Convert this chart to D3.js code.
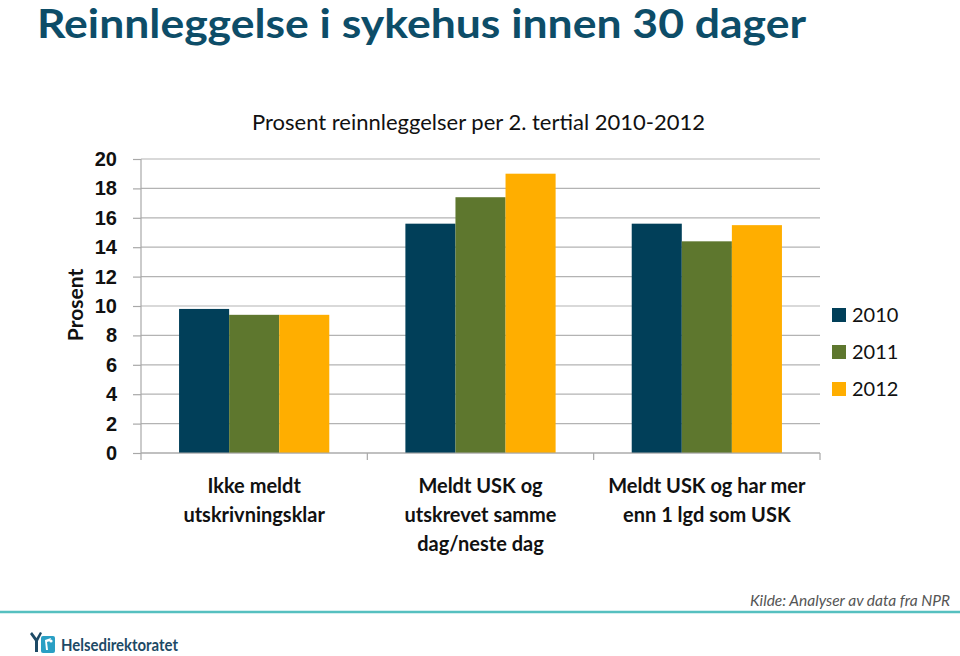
<!DOCTYPE html>
<html lang="no">
<head>
  <meta charset="UTF-8">
  <title>Reinnleggelse i sykehus innen 30 dager</title>
  <script src="https://d3js.org/d3.v7.min.js"></script>
  <style>
    body { margin: 0; background: #fff; font-family: Lato, "Open Sans", sans-serif; }
    svg { display: block; }
    .grid line { stroke: #b3b3b3; stroke-width: 1.2px; }
    .tick text { font-weight: bold; font-size: 20px; fill: #111; }
  </style>
</head>
<body>
  <svg width="960" height="656"></svg>

  <script>
    const categories = [
      ["Ikke meldt", "utskrivningsklar"],
      ["Meldt USK og", "utskrevet samme", "dag/neste dag"],
      ["Meldt USK og har mer", "enn 1 lgd som USK"]
    ];
    const years = ["2010", "2011", "2012"];
    const v2010 = [9.8, 15.6, 15.6];
    const v2011 = [9.4, 17.4, 14.4];
    const v2012 = [9.4, 19.0, 15.5];
    const yTicks = [0, 2, 4, 6, 8, 10, 12, 14, 16, 18, 20];
    const colors = ["#013f59", "#5e772e", "#ffae00"];

    const svg = d3.select("svg");

    // tittel
    svg.append("text")
      .attr("x", 37).attr("y", 38)
      .attr("textLength", 769).attr("lengthAdjust", "spacingAndGlyphs")
      .attr("font-size", 40).attr("font-weight", "bold")
      .attr("fill", "#0d4d68")
      .text("Reinnleggelse i sykehus innen 30 dager");

    svg.append("text")
      .attr("x", 252).attr("y", 130)
      .attr("textLength", 453).attr("lengthAdjust", "spacingAndGlyphs")
      .attr("font-size", 21).attr("fill", "#111")
      .text("Prosent reinnleggelser per 2. tertial 2010-2012");

    const plotL = 141, plotR = 820, plotT = 159, plotB = 453;

    const y = d3.scaleLinear().domain([0, 20]).range([plotB, plotT]);
    const x0 = d3.scaleBand().domain(d3.range(categories.length)).range([plotL, plotR]).padding(0);
    const x1 = d3.scaleBand().domain(years).range([0, x0.bandwidth()])
      .paddingInner(0).paddingOuter(0.76);

    // rutenett
    svg.append("g").attr("class", "grid")
      .selectAll("line")
      .data(yTicks)
      .join("line")
      .attr("x1", plotL).attr("x2", plotR)
      .attr("y1", d => y(d)).attr("y2", d => y(d));

    // y-akse
    const yAxis = svg.append("g")
      .attr("transform", `translate(${plotL},0)`)
      .call(d3.axisLeft(y).tickValues(yTicks).tickSize(8).tickPadding(16));
    yAxis.selectAll("line, path").attr("stroke", "#a8a8a8").attr("stroke-width", 1.2);
    yAxis.select(".domain").attr("d", `M0,${plotB}V${plotT}`);

    svg.append("text")
      .attr("transform", `translate(83,305) rotate(-90)`)
      .attr("text-anchor", "middle")
      .attr("font-size", 21).attr("font-weight", "bold").attr("fill", "#111")
      .text("Prosent");

    // stolper
    const series = [v2010, v2011, v2012];
    const groups = svg.append("g")
      .selectAll("g")
      .data(categories.map((c, i) => i))
      .join("g")
      .attr("transform", i => `translate(${x0(i)},0)`);

    groups.selectAll("rect")
      .data(i => years.map((yr, j) => ({ yr, j, v: series[j][i] })))
      .join("rect")
      .attr("x", d => x1(d.yr))
      .attr("width", x1.bandwidth())
      .attr("y", d => y(d.v))
      .attr("height", d => y(0) - y(d.v))
      .attr("fill", d => colors[d.j]);

    // x-akse
    const xAxis = svg.append("g");
    xAxis.append("line")
      .attr("x1", plotL).attr("x2", plotR)
      .attr("y1", plotB).attr("y2", plotB)
      .attr("stroke", "#a8a8a8").attr("stroke-width", 1.2);
    xAxis.selectAll(".sep")
      .data(d3.range(categories.length + 1))
      .join("line")
      .attr("x1", i => plotL + i * x0.step()).attr("x2", i => plotL + i * x0.step())
      .attr("y1", plotB).attr("y2", plotB + 7)
      .attr("stroke", "#a8a8a8").attr("stroke-width", 1.2);

    categories.forEach((lines, i) => {
      const t = svg.append("text")
        .attr("text-anchor", "middle")
        .attr("font-size", 20).attr("font-weight", "bold").attr("fill", "#111");
      lines.forEach((ln, k) => {
        t.append("tspan")
          .attr("x", x0(i) + x0.bandwidth() / 2)
          .attr("y", 493 + k * 29)
          .text(ln);
      });
    });

    // forklaring
    const legend = svg.append("g")
      .selectAll("g")
      .data(years)
      .join("g")
      .attr("transform", (d, i) => `translate(832,${315 + i * 37})`);
    legend.append("rect")
      .attr("x", 0).attr("y", -7).attr("width", 14).attr("height", 14)
      .attr("fill", (d, i) => colors[i]);
    legend.append("text")
      .attr("x", 20).attr("y", 7)
      .attr("font-size", 20).attr("fill", "#111")
      .text(d => d);

    // kilde og bunntekst
    svg.append("text")
      .attr("x", 950).attr("y", 606)
      .attr("text-anchor", "end")
      .attr("font-size", 15.5).attr("font-style", "italic").attr("fill", "#555")
      .attr("textLength", 200).attr("lengthAdjust", "spacingAndGlyphs")
      .text("Kilde: Analyser av data fra NPR");

    svg.append("line")
      .attr("x1", 0).attr("x2", 960).attr("y1", 612).attr("y2", 612)
      .attr("stroke", "#56c0c0").attr("stroke-width", 2.5);

    // logo
    const logo = svg.append("g").attr("transform", "translate(28,632)");
    logo.append("path")
      .attr("d", "M2,2 L7,9 L7,20 L10,20 L10,9 L14,1 L12,0 L8.5,6 L4,0 Z")
      .attr("fill", "#1d4a66");
    logo.append("rect")
      .attr("x", 13).attr("y", 4).attr("width", 14).attr("height", 17).attr("rx", 2)
      .attr("fill", "#2a9fc4");
    logo.append("path")
      .attr("d", "M17,8 L23,6 L22,9 L19,10 L20,18 L18,18 Z")
      .attr("fill", "#fff");
    logo.append("circle").attr("cx", 23).attr("cy", 9).attr("r", 1.6).attr("fill", "#fff");
    svg.append("text")
      .attr("x", 61).attr("y", 651)
      .attr("font-size", 17).attr("font-weight", "bold").attr("fill", "#1d4a66")
      .attr("textLength", 117).attr("lengthAdjust", "spacingAndGlyphs")
      .text("Helsedirektoratet");
  </script>
</body>
</html>
